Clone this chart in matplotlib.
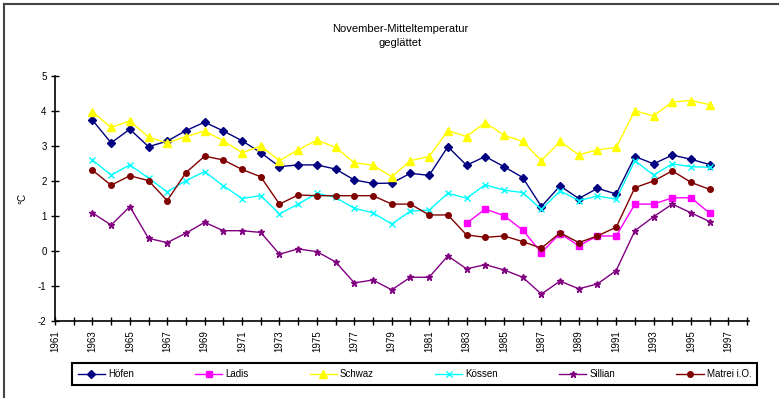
import numpy as np
import matplotlib
matplotlib.use("Agg")
import matplotlib.pyplot as plt
from matplotlib.lines import Line2D

plt.rcParams['font.family'] = ['Liberation Sans', 'DejaVu Sans']
plt.rcParams['axes.unicode_minus'] = False

years = list(range(1963, 1997))
years_ladis = list(range(1983, 1997))

hoefen = [3.74, 3.09, 3.48, 2.98, 3.14, 3.44, 3.68, 3.43, 3.15, 2.81, 2.41, 2.46, 2.46, 2.34,
          2.03, 1.93, 1.94, 2.22, 2.16, 2.98, 2.45, 2.70, 2.41, 2.10, 1.27, 1.86, 1.50, 1.79,
          1.63, 2.70, 2.49, 2.74, 2.62, 2.47]
ladis = [0.79, 1.20, 1.01, 0.60, -0.05, 0.50, 0.15, 0.43, 0.43, 1.34, 1.34, 1.52, 1.52, 1.08]
schwaz = [3.98, 3.53, 3.72, 3.25, 3.09, 3.27, 3.43, 3.15, 2.81, 3.00, 2.58, 2.89, 3.17, 2.96,
          2.52, 2.45, 2.12, 2.58, 2.70, 3.44, 3.27, 3.67, 3.31, 3.13, 2.58, 3.13, 2.75, 2.89,
          2.96, 4.01, 3.86, 4.26, 4.30, 4.18]
koessen = [2.60, 2.17, 2.46, 2.08, 1.69, 2.01, 2.27, 1.86, 1.50, 1.58, 1.06, 1.34, 1.65, 1.53,
           1.22, 1.09, 0.77, 1.14, 1.17, 1.65, 1.51, 1.89, 1.74, 1.67, 1.19, 1.72, 1.44, 1.57,
           1.48, 2.58, 2.17, 2.49, 2.41, 2.39]
sillian = [1.09, 0.74, 1.27, 0.36, 0.24, 0.51, 0.82, 0.58, 0.58, 0.53, -0.09, 0.06, -0.02, -0.31,
           -0.91, -0.83, -1.11, -0.75, -0.75, -0.14, -0.51, -0.39, -0.54, -0.75, -1.23, -0.86,
           -1.08, -0.94, -0.56, 0.58, 0.98, 1.34, 1.09, 0.84]
matrei = [2.31, 1.88, 2.15, 2.01, 1.44, 2.24, 2.71, 2.60, 2.33, 2.12, 1.34, 1.60, 1.58, 1.58,
          1.58, 1.58, 1.34, 1.34, 1.03, 1.03, 0.46, 0.39, 0.43, 0.27, 0.08, 0.52, 0.24, 0.43,
          0.68, 1.81, 2.00, 2.29, 1.96, 1.76]

W, H = 779, 398
fig = plt.figure(figsize=(W / 100, H / 100), dpi=100)
ax = fig.add_axes([55 / W, 1 - 321 / H, (749 - 55) / W, (321 - 76) / H])

series = [
    ("Höfen", years, hoefen, "#000080", "D", 4),
    ("Ladis", years_ladis, ladis, "#FF00FF", "s", 4.5),
    ("Schwaz", years, schwaz, "#FFFF00", "^", 5.5),
    ("Kössen", years, koessen, "#00FFFF", "x", 4),
    ("Sillian", years, sillian, "#800080", "*", 4.5),
    ("Matrei i.O.", years, matrei, "#800000", "o", 4),
]
handles = []
for name, x, y, c, m, ms in series:
    ax.plot(x, y, color=c, lw=1, marker=m, ms=ms, mfc=c, mec=c, mew=1)
    handles.append(Line2D([], [], color=c, lw=1, marker=m, ms=ms, mfc=c, mec=c, label=name))

ax.set_xlim(1961, 1998.1)
ax.set_ylim(-2, 5)
for s in ["top", "right"]:
    ax.spines[s].set_visible(False)
for s in ["left", "bottom"]:
    ax.spines[s].set_linewidth(1.2)

ax.set_xticks(range(1961, 1999))
ax.set_xticklabels([str(y) if (y - 1961) % 2 == 0 else "" for y in range(1961, 1999)],
                   rotation=90, fontsize=7)
ax.set_yticks(range(-2, 6))
ax.tick_params(axis="both", direction="inout", length=6, width=1, labelsize=7)
ax.tick_params(axis="y", pad=3)
ax.set_ylabel("°C", fontsize=7)
ax.yaxis.set_label_coords(-28 / 694, 0.5)

fig.text(400 / W, 1 - 29 / H, "November-Mitteltemperatur", ha="center", va="center", fontsize=8)
fig.text(400 / W, 1 - 43 / H, "geglättet", ha="center", va="center", fontsize=8)

leg = fig.legend(handles=handles, loc="center", ncol=6, mode="expand",
                 bbox_to_anchor=(72 / W, 1 - 389 / H, (757 - 72) / W, 30 / H),
                 borderaxespad=0, fontsize=7, handlelength=2.8, handletextpad=0.3,
                 fancybox=False, edgecolor="black", framealpha=1, borderpad=0.6)
leg.get_frame().set_linewidth(1.5)
leg._legend_box.align = "center"

# outer chart frame (left and top edges)
fig.add_artist(Line2D([4 / W, 4 / W], [0, 1 - 4 / H], color="#444444", lw=1.5,
                      transform=fig.transFigure))
fig.add_artist(Line2D([4 / W, 1], [1 - 4 / H, 1 - 4 / H], color="#444444", lw=1.5,
                      transform=fig.transFigure))

fig.savefig("out.png", dpi=100)
